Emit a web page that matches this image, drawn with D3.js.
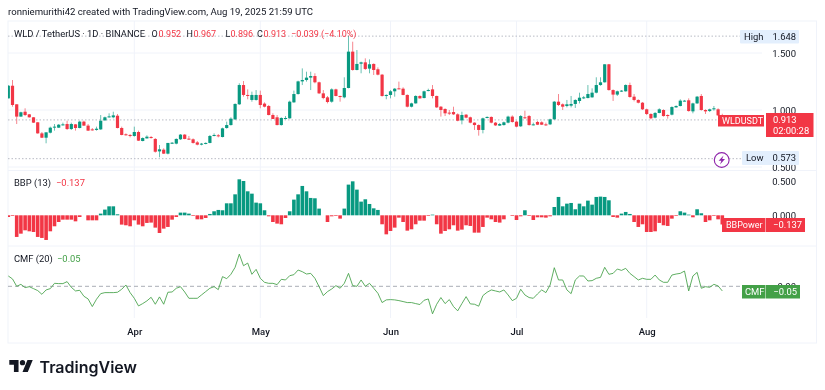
<!DOCTYPE html>
<html>
<head>
<meta charset="utf-8">
<script src="https://d3js.org/d3.v7.min.js"></script>
<style>
  body { margin: 0; background: #fff; }
  svg { display: block; font-family: Roboto, sans-serif; filter: blur(0.3px); }
  .axis path, .axis line { display: none; }
  .axis text { font-family: Roboto, sans-serif; font-size: 9.5px; fill: #131722; }
</style>
</head>
<body>
<svg id="chart" width="825" height="390"></svg>
<script>
// daily candles, Mar 2 to Aug 19 2025
const startDate = Date.UTC(2025, 2, 2);
const opens = [
  1.102,1.213,1.050,.942,.985,.962,.936,.892,.795,.757,.801,.848,.845,.868,.877,.833,.874,.842,.898,.863,
  .830,.825,.830,.909,.939,.936,.950,.842,.787,.781,.772,.807,.728,.751,.763,.746,.637,.652,.617,.708,
  .705,.743,.784,.749,.743,.716,.696,.705,.711,.772,.778,.763,.842,.868,.918,1.050,1.219,1.132,1.088,1.088,
  1.132,1.056,1.035,.956,.936,.868,.921,.927,1.067,1.140,1.251,1.263,1.284,1.298,1.243,1.146,1.111,1.073,1.181,1.123,
  1.111,1.193,1.512,1.351,1.406,1.418,1.363,1.404,1.357,1.310,1.123,1.132,1.164,1.190,1.187,1.132,1.029,1.058,1.123,1.105,
  1.167,1.181,1.123,1.029,1.009,.977,.982,.962,.909,.959,.936,.889,.868,.825,.930,.939,.889,.863,.868,.889,
  .942,.898,.857,.936,.947,.868,.895,.892,.874,.874,.918,1.073,1.050,1.035,1.038,1.053,1.079,1.102,1.105,1.111,
  1.152,1.219,1.243,1.401,1.175,1.135,1.164,1.164,1.219,1.117,1.088,1.064,1.006,.965,.933,.974,1.000,.956,.959,1.023,
  1.035,1.079,1.085,.988,1.058,1.123,1.000,.991,1.006,1.006,.952
];
const highs = [
  1.219,1.263,1.050,.985,1.015,.965,.938,.895,.807,.804,.854,.877,.877,.889,.906,.889,.877,.906,.906,.877,
  .842,.854,.956,.942,.971,.985,.965,.854,.795,.789,.854,.819,.760,.778,.772,.754,.693,.664,.711,.719,
  .751,.789,.789,.772,.751,.728,.711,.716,.781,.795,.789,.845,.898,.936,1.058,1.234,1.254,1.181,1.161,1.175,
  1.170,1.067,1.044,.971,.956,.936,.947,1.082,1.170,1.257,1.365,1.336,1.336,1.322,1.249,1.175,1.123,1.190,1.187,1.126,
  1.287,1.649,1.599,1.526,1.424,1.453,1.444,1.409,1.374,1.316,1.137,1.175,1.193,1.249,1.199,1.137,1.064,1.129,1.129,1.170,
  1.187,1.219,1.126,1.035,1.015,1.000,1.029,.971,.985,.965,.942,.892,.874,.933,.944,.944,.895,.886,.898,.950,
  .953,.906,.956,.994,.956,.889,.904,.901,.889,.924,1.079,1.140,1.058,1.088,1.123,1.094,1.152,1.123,1.219,1.190,
  1.287,1.287,1.401,1.404,1.181,1.170,1.175,1.225,1.240,1.140,1.094,1.070,1.012,.971,.982,1.015,1.006,.962,1.032,1.041,
  1.094,1.088,1.102,1.064,1.123,1.140,1.006,1.012,1.035,1.015,.967
];
const lows = [
  1.102,1.029,.877,.942,.947,.933,.886,.792,.754,.708,.795,.819,.842,.863,.825,.825,.819,.839,.860,.816,
  .819,.819,.825,.906,.933,.927,.839,.778,.775,.760,.766,.728,.725,.749,.749,.626,.585,.614,.611,.702,
  .699,.737,.743,.737,.705,.690,.690,.699,.708,.769,.760,.760,.836,.863,.912,1.044,1.117,1.094,1.073,1.082,
  1.015,1.023,.953,.921,.865,.863,.918,.924,1.064,1.135,1.219,1.249,1.175,1.234,1.140,1.094,1.058,1.064,1.120,1.073,
  1.102,1.190,1.345,1.348,1.322,1.351,1.322,1.307,1.304,1.117,1.094,1.102,1.117,1.181,1.129,1.023,1.023,1.056,1.099,1.102,
  1.164,1.102,1.018,.942,.947,.956,.956,.901,.874,.927,.883,.825,.775,.795,.927,.883,.860,.860,.863,.883,
  .889,.848,.851,.924,.863,.865,.868,.868,.860,.868,.915,1.035,1.000,1.023,1.023,1.018,1.058,1.096,1.102,1.108,
  1.146,1.213,1.240,1.170,1.079,1.123,1.158,1.161,1.108,1.076,1.058,1.000,.956,.918,.927,.971,.942,.924,.953,1.020,
  1.032,1.076,.985,.971,1.053,.994,.965,.982,.994,.947,.896
];
const closes = [
  1.213,1.044,.942,.980,.956,.936,.889,.795,.757,.804,.845,.854,.871,.874,.833,.877,.842,.898,.863,.819,
  .825,.836,.906,.936,.944,.953,.842,.781,.781,.772,.807,.731,.754,.766,.757,.634,.655,.617,.711,.713,
  .746,.784,.746,.743,.711,.696,.705,.711,.772,.781,.769,.839,.868,.924,1.053,1.219,1.132,1.123,1.132,1.132,
  1.044,1.029,.956,.921,.868,.930,.930,1.073,1.140,1.251,1.263,1.284,1.298,1.243,1.146,1.105,1.070,1.181,1.123,1.114,
  1.193,1.512,1.351,1.404,1.418,1.360,1.401,1.351,1.310,1.123,1.132,1.164,1.187,1.184,1.132,1.029,1.058,1.123,1.102,1.164,
  1.175,1.123,1.023,1.000,.971,.971,.962,.906,.956,.933,.889,.868,.825,.927,.939,.889,.865,.877,.892,.942,
  .895,.854,.947,.927,.868,.874,.871,.871,.868,.918,1.073,1.044,1.029,1.050,1.053,1.088,1.108,1.111,1.140,1.152,
  1.219,1.243,1.401,1.175,1.135,1.164,1.170,1.219,1.114,1.088,1.064,1.006,.965,.927,.974,1.006,.947,.947,1.026,1.035,
  1.082,1.082,.991,1.058,1.117,1.000,.988,1.006,1.015,.953,.913
];
const bbpValues = [
  -.025,-.01,-.323,-.274,-.224,-.239,-.249,-.323,-.338,-.368,-.239,-.164,-.1,-.065,-.065,-.065,-.09,-.025,0,-.075,
  -.075,-.075,.025,.085,.134,.134,.015,-.139,-.149,-.164,-.075,-.139,-.164,-.114,-.109,-.184,-.264,-.199,-.174,-.065,
  -.025,.04,.04,.025,-.01,-.06,-.06,-.04,.02,.06,.08,.075,.179,.179,.313,.537,.512,.358,.323,.189,
  .179,.075,-.015,-.1,-.124,-.134,-.04,.06,.234,.313,.438,.358,.259,.254,.1,0,-.1,-.015,-.01,-.05,
  .1,.458,.507,.383,.204,.239,.169,.104,.08,-.134,-.284,-.234,-.184,-.035,-.1,-.229,-.209,-.134,-.08,-.08,
  -.01,.01,-.134,-.274,-.234,-.209,-.149,-.229,-.214,-.149,-.159,-.259,-.259,-.174,-.035,-.06,-.1,-.109,-.06,0,
  -.01,-.07,-.015,.075,-.01,-.07,-.03,-.03,-.035,-.015,.124,.274,.134,.174,.184,.09,.174,.134,.219,.159,
  .274,.279,.274,.224,-.025,-.035,.025,.05,.02,-.1,-.174,-.134,-.249,-.249,-.239,-.114,-.149,-.159,-.05,-.01,
  .06,.04,.01,-.03,.09,.03,-.1,-.075,-.01,-.06,-.137
];
const cmfValues = [
  .111,.079,0,.021,-.014,-.004,-.025,-.046,-.086,-.039,-.025,.032,.029,.029,.05,-.011,-.05,-.043,-.107,-.136,
  -.218,-.139,-.079,-.068,-.068,-.068,-.064,-.032,.014,-.068,-.129,-.211,-.186,-.157,-.118,-.193,-.114,-.193,-.064,-.061,
  -.021,-.004,-.061,-.129,-.129,-.129,-.093,-.057,-.021,-.004,-.036,.104,.082,.129,.204,.346,.221,.25,.129,.182,
  .086,.043,.032,.032,.018,.075,.068,.114,.125,.175,.157,.132,.139,.086,-.004,-.1,-.057,-.029,.007,-.021,
  .032,.139,.007,0,.068,0,.032,-.021,-.075,-.175,-.146,-.143,-.146,-.154,-.164,-.175,-.175,-.186,-.196,-.15,
  -.136,-.296,-.193,-.121,-.186,-.143,-.218,-.264,-.186,-.111,-.189,-.193,-.214,-.1,-.064,-.039,-.05,-.061,-.039,-.093,
  -.154,-.129,-.032,-.093,-.121,-.129,-.082,-.039,-.068,.014,.2,.068,.068,-.039,-.079,.068,.111,.111,.057,.061,
  .086,.096,.204,.129,.139,.186,.171,.193,.139,.104,.068,.086,.075,.075,.121,.068,.043,.043,.121,.132,
  .139,.164,-.05,.111,.15,-.021,-.004,-.011,.021,.004,-.05
];
const priceTicks = [0.5, 1, 1.5];
const bbpTicks = [0, 0.5];
const monthTicks = ["2025-04-01", "2025-05-01", "2025-06-01", "2025-07-01", "2025-08-01"];
const legendParts = [
  ["O", 151.5, 0], ["0.952", 158.5, 1], ["H", 186.5, 0], ["0.967", 193.5, 1], ["L", 225.5, 0], ["0.896", 230.5, 1],
  ["C", 257, 0], ["0.913", 263.5, 1], ["\u22120.039 (\u22124.10%)", 291, 1]
];

const green = "#089981", red = "#f23645", ink = "#131722", cmfColor = "#43a047";
const dayMs = 86400000;
const svg = d3.select("#chart");

const candles = closes.map((c, i) => ({
  date: new Date(startDate + i * dayMs), open: opens[i], high: highs[i], low: lows[i], close: c
}));

const x = d3.scaleUtc()
  .domain([new Date(Date.UTC(2025, 3, 1)), new Date(Date.UTC(2025, 7, 1))])
  .range([134.3, 646.7]);
const yPrice = d3.scaleLinear().domain([0.5, 1.5]).range([167, 53]);
const yBbp = d3.scaleLinear().domain([0, 0.5]).range([215.3, 181.8]);
const yCmf = d3.scaleLinear().domain([0, 0.1]).range([286.3, 277]);

// frame and panes
svg.append("defs").append("clipPath").attr("id", "plot")
  .append("rect").attr("x", 8).attr("y", 21).attr("width", 809).attr("height", 300);

const grid = svg.append("g").attr("stroke", "#f0f3fa").attr("fill", "none");
grid.append("rect").attr("x", 8).attr("y", 21).attr("width", 808.5).attr("height", 322);
[170.5, 246].forEach(y => grid.append("line").attr("x1", 8).attr("x2", 816).attr("y1", y).attr("y2", y));
monthTicks.forEach(m => {
  const px = x(new Date(m));
  grid.append("line").attr("x1", px).attr("x2", px).attr("y1", 21).attr("y2", 318);
});
priceTicks.forEach(p => grid.append("line").attr("x1", 8).attr("x2", 762)
  .attr("y1", yPrice(p)).attr("y2", yPrice(p)));

// axes
svg.append("g").attr("class", "axis").attr("transform", "translate(796,0)")
  .call(d3.axisLeft(yPrice).tickValues(priceTicks).tickFormat(d3.format(".3f")).tickSize(0).tickPadding(0));
svg.append("g").attr("class", "axis").attr("transform", "translate(796,0)")
  .call(d3.axisLeft(yBbp).tickValues(bbpTicks).tickFormat(d3.format(".3f")).tickSize(0).tickPadding(0));
svg.append("g").attr("class", "axis").attr("transform", "translate(796,0)")
  .call(d3.axisLeft(yCmf).tickValues([0]).tickFormat(d3.format(".2f")).tickSize(0).tickPadding(0));
svg.append("g").attr("class", "axis").attr("transform", "translate(0,328)")
  .call(d3.axisBottom(x).tickValues(monthTicks.map(m => new Date(m))).tickFormat(d3.utcFormat("%b")).tickSize(0).tickPadding(0))
  .selectAll("text").style("font-weight", 500);

// reference lines
const dashed = [[yPrice(1.648), 741], [yPrice(0.573), 741], [yPrice(0.913), 720]];
dashed.forEach(d => svg.append("line").attr("x1", 8).attr("x2", d[1]).attr("y1", d[0]).attr("y2", d[0])
  .attr("stroke", "#b8bbc4").attr("stroke-dasharray", "1.5 2"));
svg.append("line").attr("x1", 8).attr("x2", 745).attr("y1", yCmf(0)).attr("y2", yCmf(0))
  .attr("stroke", "#a9adb6").attr("stroke-dasharray", "4 3");

// candles
const candleG = svg.append("g").attr("clip-path", "url(#plot)");
const candleColor = d => d.close >= d.open ? green : red;
candleG.selectAll(".wick").data(candles).enter().append("line")
  .attr("class", "wick")
  .attr("x1", d => x(d.date)).attr("x2", d => x(d.date))
  .attr("y1", d => yPrice(d.high)).attr("y2", d => yPrice(d.low))
  .attr("stroke", candleColor).attr("stroke-opacity", 0.6);
candleG.selectAll(".body").data(candles).enter().append("rect")
  .attr("class", "body")
  .attr("x", d => x(d.date) - 1.6).attr("width", 3.2)
  .attr("y", d => Math.min(yPrice(d.open), yPrice(d.close)))
  .attr("height", d => Math.max(1, Math.abs(yPrice(d.open) - yPrice(d.close))))
  .attr("fill", candleColor);

// BBP histogram
candleG.selectAll(".bar").data(bbpValues).enter().append("rect")
  .attr("class", "bar")
  .attr("x", (d, i) => x(candles[i].date) - 1.8).attr("width", 3.6)
  .attr("y", d => Math.min(yBbp(d), yBbp(0)))
  .attr("height", d => Math.abs(yBbp(d) - yBbp(0)))
  .attr("fill", d => d >= 0 ? green : red);

// CMF line
const cmfLine = d3.line().x((d, i) => x(candles[i].date)).y(d => yCmf(d));
svg.append("path").datum(cmfValues).attr("d", cmfLine)
  .attr("fill", "none").attr("stroke", cmfColor).attr("stroke-width", 1).attr("stroke-opacity", 0.85);

function addText(str, px, py, color, size, weight, anchor) {
  return svg.append("text").attr("x", px).attr("y", py).attr("fill", color)
    .attr("font-size", size).attr("font-weight", weight || 400)
    .attr("text-anchor", anchor || "start").text(str);
}
function addBox(bx, by, w, h, color, r) {
  svg.append("rect").attr("x", bx).attr("y", by).attr("width", w).attr("height", h)
    .attr("fill", color).attr("rx", r || 0);
}

// header and legends
addText("ronniemurithi42 created with TradingView.com, Aug 19, 2025 21:59 UTC", 8, 15, ink, 9.6);
addText("WLD / TetherUS \u00b7 1D \u00b7 BINANCE", 14, 36.5, ink, 9.4);
legendParts.forEach(p => addText(p[0], p[1], 36.5, p[2] ? red : ink, 9));
addText("BBP (13)", 14, 186, ink, 9.4);
addText("\u22120.137", 56, 186, red, 9.4);
addText("CMF (20)", 14, 261.5, ink, 9.4);
addText("\u22120.05", 57, 261.5, cmfColor, 9.4);

// price labels
addBox(740, 30, 59, 13.5, "#e3effd", 1);
addText("High", 744, 39.8, ink, 9.4);
addText("1.648", 796, 39.8, ink, 9.4, 400, "end");
addBox(742, 151, 57, 14, "#e3effd", 1);
addText("Low", 746, 161.3, ink, 9.4);
addText("0.573", 796, 161.3, ink, 9.4, 400, "end");

addBox(718, 115, 46, 11.5, red);
addText("WLDUSDT", 722, 124, "#fff", 9);
addBox(766, 113, 47.5, 24, red);
addText("0.913", 773, 123, "#fff", 9.4);
addText("02:00:28", 773, 134, "#fff", 9.4);

addBox(722, 218, 43.5, 14, red);
addText("BBPower", 726, 228.3, "#fff", 9);
addBox(766, 218, 39, 14, red);
addText("\u22120.137", 802, 228.3, "#fff", 9.4, 400, "end");

addBox(742, 285, 23.5, 13.5, cmfColor);
addText("CMF", 745, 295, "#fff", 9.4);
addBox(766, 285, 34, 13.5, cmfColor);
addText("\u22120.05", 797, 295, "#fff", 9.4, 400, "end");

// bolt badge
svg.append("circle").attr("cx", 721.7).attr("cy", 160).attr("r", 7.4)
  .attr("fill", "#fff").attr("stroke", "#8e24aa").attr("stroke-width", 1.1);
svg.append("path").attr("d", "M723.5 155.5 L718.6 160.8 L721.4 160.8 L720 164.5 L725 159 L722.2 159 Z").attr("fill", "#8e24aa");

// brand
svg.append("path").attr("transform", "translate(9.3,357.4) scale(0.66)")
  .attr("d", "M14 22H7V11H0V4h14v18zM28 22h-8l7.5-18h8L28 22z").attr("fill", ink);
svg.append("circle").attr("cx", 9.3 + 20 * 0.66).attr("cy", 357.4 + 8 * 0.66).attr("r", 4 * 0.66).attr("fill", ink);
addText("TradingView", 39.5, 372.5, ink, 16, 600).style("font-family", "Inter");
</script>
</body>
</html>
